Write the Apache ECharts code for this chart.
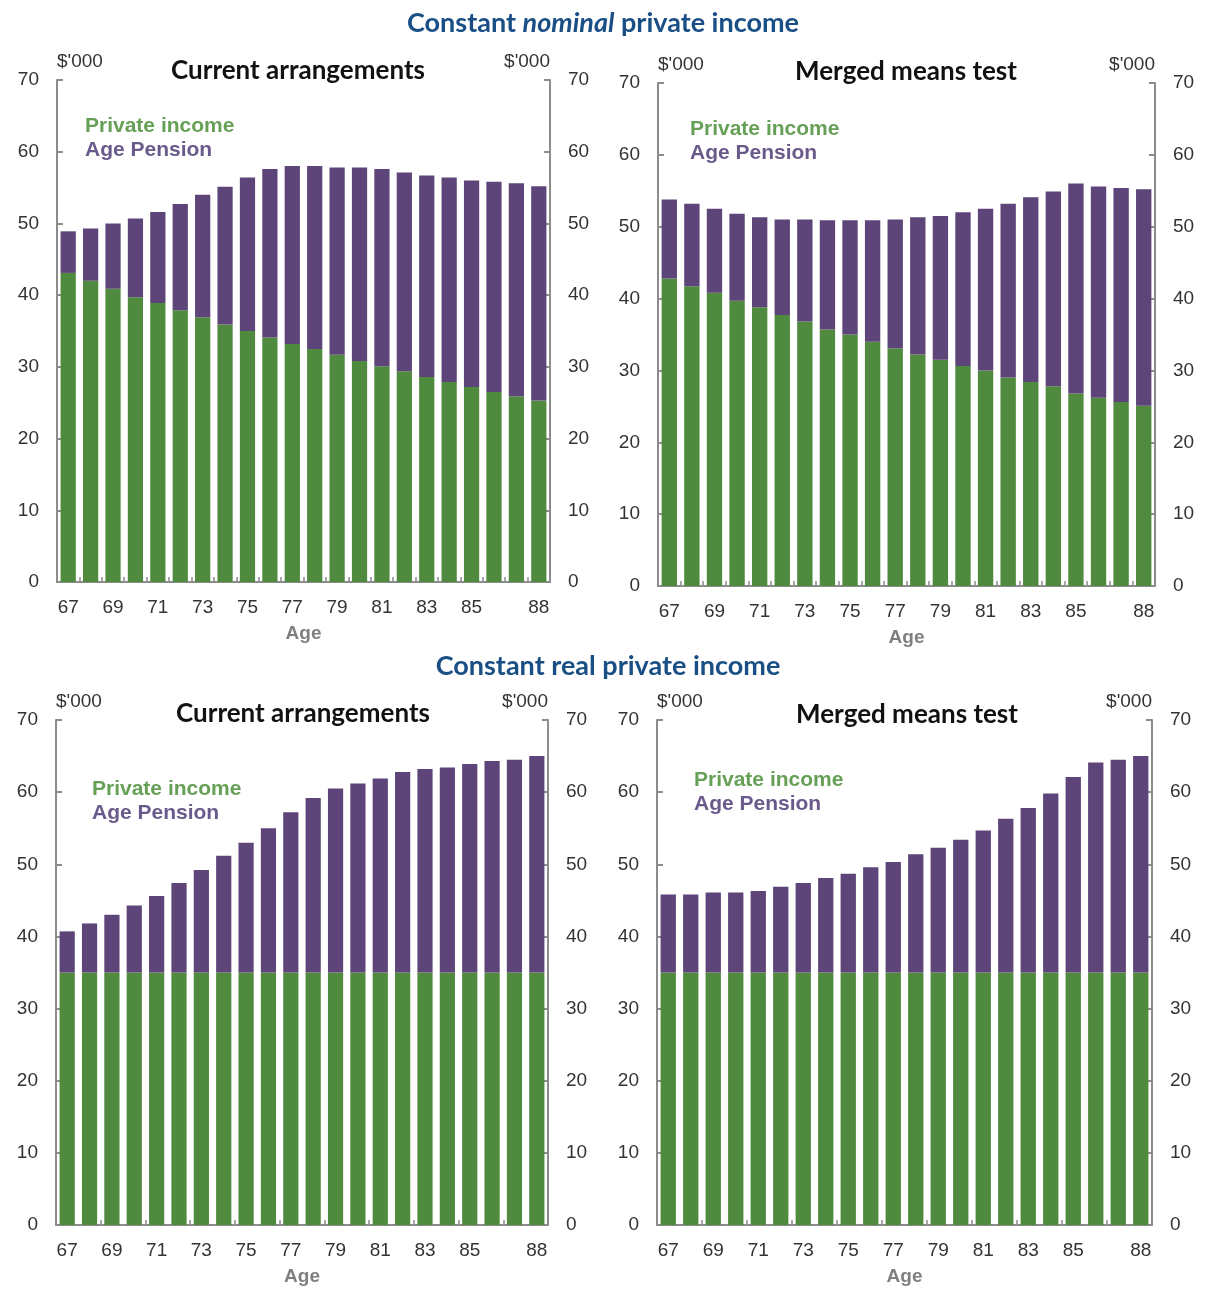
<!DOCTYPE html>
<html>
<head>
<meta charset="utf-8">
<script src="https://cdn.jsdelivr.net/npm/echarts@6/dist/echarts.min.js"></script>
<style>
  html, body { margin: 0; padding: 0; background: #fff; }
  #main { width: 1205px; height: 1289px; }
</style>
</head>
<body>
<div id="main"></div>
<script>
// ages on the x axis
var ages = ['67','68','69','70','71','72','73','74','75','76','77','78','79','80','81','82','83','84','85','86','87','88'];
var yTicks = [0, 10, 20, 30, 40, 50, 60, 70];

// constant nominal private income, current arrangements ($'000)
var nomCurPrivate = [43.1, 42.0, 40.9, 39.7, 38.9, 37.9, 36.9, 35.9, 35.0, 34.1, 33.2, 32.5, 31.7, 30.8, 30.1, 29.4, 28.6, 27.9, 27.2, 26.5, 25.9, 25.3];
var nomCurPension = [5.8, 7.3, 9.1, 11.0, 12.7, 14.8, 17.1, 19.2, 21.4, 23.5, 24.8, 25.5, 26.1, 27.0, 27.5, 27.7, 28.1, 28.5, 28.8, 29.3, 29.7, 29.9];

// constant nominal private income, merged means test
var nomMrgPrivate = [42.8, 41.7, 40.8, 39.7, 38.8, 37.7, 36.8, 35.7, 35.0, 34.0, 33.1, 32.2, 31.5, 30.6, 30.0, 29.0, 28.4, 27.8, 26.8, 26.2, 25.6, 25.1];
var nomMrgPension = [11.0, 11.5, 11.7, 12.1, 12.5, 13.3, 14.2, 15.2, 15.9, 16.9, 17.9, 19.1, 20.0, 21.4, 22.5, 24.2, 25.7, 27.1, 29.2, 29.4, 29.8, 30.1];

// constant real private income, current arrangements
var realCurPrivate = [35, 35, 35, 35, 35, 35, 35, 35, 35, 35, 35, 35, 35, 35, 35, 35, 35, 35, 35, 35, 35, 35];
var realCurPension = [5.7, 6.8, 8.0, 9.3, 10.6, 12.4, 14.2, 16.2, 18.0, 20.0, 22.2, 24.2, 25.5, 26.2, 26.9, 27.8, 28.2, 28.4, 28.9, 29.3, 29.5, 30.0];

// constant real private income, merged means test
var realMrgPrivate = [35, 35, 35, 35, 35, 35, 35, 35, 35, 35, 35, 35, 35, 35, 35, 35, 35, 35, 35, 35, 35, 35];
var realMrgPension = [10.8, 10.8, 11.1, 11.1, 11.3, 11.9, 12.4, 13.1, 13.7, 14.6, 15.3, 16.4, 17.3, 18.4, 19.7, 21.3, 22.8, 24.8, 27.1, 29.1, 29.5, 30.0];

var panels = [
  { title: 'Current arrangements', priv: nomCurPrivate, pens: nomCurPension, grid: { left: 57, top: 80, width: 493, height: 502 }, tickEvery: 0 },
  { title: 'Merged means test', priv: nomMrgPrivate, pens: nomMrgPension, grid: { left: 658, top: 83, width: 497, height: 503 }, tickEvery: 0 },
  { title: 'Current arrangements', priv: realCurPrivate, pens: realCurPension, grid: { left: 56, top: 720, width: 492, height: 505 }, tickEvery: 1 },
  { title: 'Merged means test', priv: realMrgPrivate, pens: realMrgPension, grid: { left: 657, top: 720, width: 495, height: 505 }, tickEvery: 1 }
];

var GREEN = '#4f8a3e';
var PURPLE = '#5e4579';
var AXIS = '#8c8c8c';
var NUM_FONT = "'Liberation Sans Narrow', 'Arial Narrow', 'Liberation Sans', Arial, sans-serif";
var TXT_FONT = "'Liberation Sans', Arial, sans-serif";
var HEAD_FONT = "Lato, 'Open Sans', sans-serif";

var myChart = echarts.init(document.getElementById('main'), null, { renderer: 'canvas' });

var grids = [], xAxes = [], yAxes = [], series = [];

panels.forEach(function (p, i) {
  grids.push(p.grid);

  xAxes.push({
    gridIndex: i,
    type: 'category',
    data: ages,
    axisLine: { show: true, lineStyle: { color: AXIS, width: 2 } },
    axisTick: { show: true, inside: true, length: 5, interval: p.tickEvery, lineStyle: { color: AXIS, width: 1.5 } },
    axisLabel: {
      color: '#333', fontSize: 19, fontFamily: NUM_FONT, margin: 16,
      interval: function (idx) { return (idx % 2 === 0 && idx <= 18) || idx === 21; }
    },
    name: 'Age',
    nameLocation: 'middle',
    nameGap: 42,
    nameTextStyle: { color: '#7f7f7f', fontSize: 19, fontWeight: 'bold', fontFamily: TXT_FONT }
  });

  ['left', 'right'].forEach(function (side) {
    yAxes.push({
      gridIndex: i,
      type: 'value',
      position: side,
      min: yTicks[0],
      max: yTicks[yTicks.length - 1],
      interval: 10,
      splitLine: { show: false },
      axisLine: { show: true, lineStyle: { color: AXIS, width: 2 } },
      axisTick: { show: true, inside: true, length: 6, lineStyle: { color: AXIS, width: 2 } },
      axisLabel: { color: '#333', fontSize: 19, fontFamily: NUM_FONT, margin: 18 },
      name: "$'000",
      nameLocation: 'end',
      nameGap: 9,
      nameTextStyle: { color: '#333', fontSize: 19, fontFamily: NUM_FONT, align: side === 'left' ? 'left' : 'right' }
    });
  });

  series.push({
    name: 'Private income', type: 'bar', stack: 'p' + i,
    xAxisIndex: i, yAxisIndex: i * 2,
    barCategoryGap: '32%',
    itemStyle: { color: GREEN },
    data: p.priv
  });
  series.push({
    name: 'Age Pension', type: 'bar', stack: 'p' + i,
    xAxisIndex: i, yAxisIndex: i * 2,
    barCategoryGap: '32%',
    itemStyle: { color: PURPLE },
    data: p.pens
  });
});

// text pieces drawn on top
function txt(x, y, s, style) {
  return { type: 'text', x: x, y: y, z: 100, style: Object.assign({ text: s, verticalAlign: 'middle' }, style) };
}
var headStyle = { fill: '#1a4f86', fontFamily: HEAD_FONT, fontSize: 27, fontWeight: 'bold', align: 'center' };
var panelTitle = { fill: '#111', fontFamily: HEAD_FONT, fontSize: 26, fontWeight: 'bold', align: 'center' };
var greenTxt = { fill: '#66a056', fontFamily: TXT_FONT, fontSize: 21, fontWeight: 'bold', align: 'left' };
var purpleTxt = { fill: '#6a5a8c', fontFamily: TXT_FONT, fontSize: 21, fontWeight: 'bold', align: 'left' };

var graphics = [
  {
    type: 'text', x: 603, y: 23, z: 100,
    style: {
      text: '{b|Constant }{i|nominal}{b| private income}',
      align: 'center', verticalAlign: 'middle',
      rich: {
        b: { fill: '#1a4f86', fontFamily: HEAD_FONT, fontSize: 27, fontWeight: 'bold' },
        i: { fill: '#1a4f86', fontFamily: HEAD_FONT, fontSize: 27, fontWeight: 'bold', fontStyle: 'italic' }
      }
    }
  },
  txt(608, 666, 'Constant real private income', headStyle),
  txt(298, 71, panels[0].title, panelTitle),
  txt(906, 72, panels[1].title, panelTitle),
  txt(303, 714, panels[2].title, panelTitle),
  txt(907, 715, panels[3].title, panelTitle),
  txt(85, 126, 'Private income', greenTxt),
  txt(85, 150, 'Age Pension', purpleTxt),
  txt(690, 129, 'Private income', greenTxt),
  txt(690, 153, 'Age Pension', purpleTxt),
  txt(92, 789, 'Private income', greenTxt),
  txt(92, 813, 'Age Pension', purpleTxt),
  txt(694, 780, 'Private income', greenTxt),
  txt(694, 804, 'Age Pension', purpleTxt)
];

var option = {
  backgroundColor: '#fff',
  animation: false,
  grid: grids,
  xAxis: xAxes,
  yAxis: yAxes,
  series: series,
  graphic: graphics
};

myChart.setOption(option);
</script>
</body>
</html>
